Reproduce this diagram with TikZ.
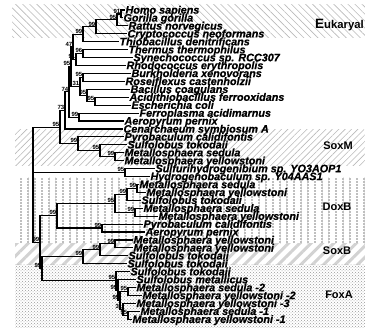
\documentclass[tikz,border=0pt]{standalone}
\usepackage{fontspec}
\setmainfont{Liberation Sans}
\newfontfamily\leaffont{Liberation Sans}[UprightFont=* Bold Italic,FakeBold=0.8]
\usetikzlibrary{patterns,patterns.meta}

\begin{document}
\begin{tikzpicture}[x=1pt,y=-1pt,line width=1.1pt]
\tikzstyle{leaf}=[anchor=west,inner sep=0pt,text height=1.38ex,text depth=0pt,font=\leaffont\fontsize{10.8}{11}\selectfont]
\tikzstyle{bs}=[inner sep=0.2pt,font=\fontsize{6}{6}\selectfont\bfseries]
\tikzstyle{grp}=[inner sep=0pt,font=\fontsize{11}{12}\selectfont\bfseries]
\useasboundingbox (0,0) rectangle (365,328);
\path[pattern={Lines[angle=-45,distance=5pt,line width=0.6pt]},pattern color=gray!55] (12,5) rectangle (365,38);
\path[pattern={Lines[angle=45,distance=4.5pt,line width=0.6pt]},pattern color=gray!55] (15,130) rectangle (365,166);
\path[pattern={Lines[angle=90,distance=7pt,line width=1.8pt]},pattern color=gray!50] (15,178) rectangle (365,244);
\path[pattern={Lines[angle=0,distance=3pt,line width=1pt]},pattern color=white] (15,178) rectangle (365,244);
\path[pattern={Lines[angle=45,distance=8pt,line width=3pt]},pattern color=gray!35] (15,244) rectangle (365,265);
\path[pattern=crosshatch dots,pattern color=gray!80] (15,265) rectangle (365,328);

\node[leaf] (hsap) at (125,10.0) {Homo sapiens};
\node[leaf] (ggor) at (123,17.9) {Gorilla gorilla};
\node[leaf] (rnor) at (128,25.9) {Rattus norvegicus};
\node[leaf] (cneo) at (127,33.8) {Cryptococcus neoformans};
\node[leaf] (tden) at (119,41.7) {Thiobacillus denitrificans};
\node[leaf] (tthe) at (128,49.7) {Thermus thermophilus};
\node[leaf] (syn) at (133,57.6) {Synechococcus sp. RCC307};
\node[leaf] (rery) at (126,65.5) {Rhodococcus erythropolis};
\node[leaf] (bxen) at (131,73.4) {Burkholderia xenovorans};
\node[leaf] (rcas) at (125,81.4) {Roseiflexus castenholzii};
\node[leaf] (bcoa) at (130,89.3) {Bacillus coagulans};
\node[leaf] (afer) at (129,97.2) {Acidithiobacillus ferrooxidans};
\node[leaf] (ecol) at (131,105.2) {Escherichia coli};
\node[leaf] (faci) at (139,113.1) {Ferroplasma acidimarnus};
\node[leaf] (aper) at (124,121.0) {Aeropyrum pernix};
\node[leaf] (csym) at (123,129.0) {Cenarchaeum symbiosum A};
\node[leaf] (pcal) at (124,136.9) {Pyrobaculum calidifontis};
\node[leaf] (stok) at (127,144.8) {Sulfolobus tokodaii};
\node[leaf] (msed) at (124,152.7) {Metallosphaera sedula};
\node[leaf] (myel) at (124,160.7) {Metallosphaera yellowstoni};
\node[leaf] (sulf) at (155,168.6) {Sulfurihydrogenibium sp. YO3AOP1};
\node[leaf] (hyd) at (150,176.5) {Hydrogenobaculum sp. Y04AAS1};
\node[leaf] (msedb) at (139,184.5) {Metallosphaera sedula};
\node[leaf] (myelb) at (146,192.4) {Metallosphaera yellowstoni};
\node[leaf] (stokb) at (141,200.3) {Sulfolobus tokodaii};
\node[leaf] (msedc) at (143,208.3) {Metallosphaera sedula};
\node[leaf] (myelc) at (158,216.2) {Metallosphaera yellowstoni};
\node[leaf] (pcalb) at (143,224.1) {Pyrobaculum calidifontis};
\node[leaf] (aperb) at (145,232.0) {Aeropyrum pernix};
\node[leaf] (myeld) at (133,240.0) {Metallosphaera yellowstoni};
\node[leaf] (myele) at (133,247.9) {Metallosphaera yellowstoni};
\node[leaf] (stokc) at (128,255.8) {Sulfolobus tokodaii};
\node[leaf] (stokd) at (127,263.8) {Sulfolobus tokodaii};
\node[leaf] (stoke) at (130,271.7) {Sulfolobus tokodaii};
\node[leaf] (smet) at (136,279.6) {Sulfolobus metallicus};
\node[leaf] (msed2) at (136,287.6) {Metallosphaera sedula -2};
\node[leaf] (myel2) at (142,295.5) {Metallosphaera yellowstoni -2};
\node[leaf] (myel3) at (136,303.4) {Metallosphaera yellowstoni -3};
\node[leaf] (msed1) at (140,311.3) {Metallosphaera sedula -1};
\node[leaf] (myel1) at (132,319.3) {Metallosphaera yellowstoni -1};

\coordinate[label={[bs]above left:91}] (hg) at (121,14.0);
\coordinate[label={[bs]above left:95}] (hgr) at (117,19.9);
\coordinate[label={[bs]above left:99}] (euk) at (96,26.9);
\coordinate[label={[bs]above left:99}] (et) at (83,34.3);
\coordinate[label={[bs]above left:96}] (ts) at (83,53.6);
\coordinate[label={[bs]above left:91}] (tsr) at (76,59.6);
\coordinate[label={[bs]above left:47}] (n47) at (73,47.0);
\coordinate[label={[bs]above left:95}] (br) at (83,77.4);
\coordinate[label={[bs]above left:95}] (ae) at (95,101.2);
\coordinate[label={[bs]above left:95}] (bae) at (87,95.3);
\coordinate[label={[bs]above left:31}] (brb) at (80,86.3);
\coordinate[label={[bs]above left:95}] (bact) at (71,66.6);
\coordinate[label={[bs]above left:99}] (fa) at (79,117.1);
\coordinate[label={[bs]above left:74}] (n74) at (69,91.8);
\coordinate[label={[bs]above left:73}] (n73) at (65,110.4);
\coordinate[label={[bs]above left:99}] (m3) at (115,156.7);
\coordinate[label={[bs]above left:95}] (m2) at (100,150.8);
\coordinate[label={[bs]above left:99}] (soxm) at (78,143.8);
\coordinate[label={[bs]above left:95}] (up) at (60,127.1);
\coordinate[label={[bs]above left:95}] (sh) at (125,172.6);
\coordinate[label={[bs]above left:99}] (d1) at (137,188.4);
\coordinate[label={[bs]above left:99}] (d2) at (127,194.4);
\coordinate[label={[bs]above left:99}] (d3) at (135,212.2);
\coordinate[label={[bs]above left:95}] (d4) at (115,203.3);
\coordinate[label={[bs]above left:99}] (pa) at (102,228.0);
\coordinate[label={[bs]above left:99}] (doxb) at (57,215.7);
\coordinate[label={[bs]above left:99}] (s0) at (115,243.9);
\coordinate[label={[bs]above left:99}] (s1) at (100,249.9);
\coordinate[label={[bs]above left:99}] (soxb) at (83,256.8);
\coordinate[label={[bs]above left:95}] (f1) at (128,291.5);
\coordinate[label={[bs]above left:95}] (f3) at (128,315.3);
\coordinate[label={[bs]above left:31}] (f4) at (123,309.4);
\coordinate[label={[bs]above left:95}] (f5) at (120,300.4);
\coordinate[label={[bs]above left:99}] (fb) at (118,290.0);
\coordinate[label={[bs]above left:95}] (foxa) at (116,280.8);
\coordinate[label={[bs]above left:99}] (sf) at (42,268.8);
\coordinate[label={[bs]above left:99}] (low) at (40,242.3);
\coordinate (root) at (33,184.7);

\draw (hg) |- (hsap.west) (hg) |- (ggor.west);
\draw (hgr) |- (hg) (hgr) |- (rnor.west);
\draw (euk) |- (hgr) (euk) |- (cneo.west);
\draw (et) |- (euk) (et) |- (tden.west);
\draw (ts) |- (tthe.west) (ts) |- (syn.west);
\draw (tsr) |- (ts) (tsr) |- (rery.west);
\draw (n47) |- (et) (n47) |- (tsr);
\draw (br) |- (bxen.west) (br) |- (rcas.west);
\draw (ae) |- (afer.west) (ae) |- (ecol.west);
\draw (bae) |- (bcoa.west) (bae) |- (ae);
\draw (brb) |- (br) (brb) |- (bae);
\draw (bact) |- (n47) (bact) |- (brb);
\draw (fa) |- (faci.west) (fa) |- (aper.west);
\draw (n74) |- (bact) (n74) |- (fa);
\draw (n73) |- (n74) (n73) |- (csym.west);
\draw (m3) |- (msed.west) (m3) |- (myel.west);
\draw (m2) |- (stok.west) (m2) |- (m3);
\draw (soxm) |- (pcal.west) (soxm) |- (m2);
\draw (up) |- (n73) (up) |- (soxm);
\draw (sh) |- (sulf.west) (sh) |- (hyd.west);
\draw (d1) |- (msedb.west) (d1) |- (myelb.west);
\draw (d2) |- (d1) (d2) |- (stokb.west);
\draw (d3) |- (msedc.west) (d3) |- (myelc.west);
\draw (d4) |- (d2) (d4) |- (d3);
\draw (pa) |- (pcalb.west) (pa) |- (aperb.west);
\draw (doxb) |- (d4) (doxb) |- (pa);
\draw (s0) |- (myeld.west) (s0) |- (myele.west);
\draw (s1) |- (s0) (s1) |- (stokc.west);
\draw (soxb) |- (s1) (soxb) |- (stokd.west);
\draw (f1) |- (msed2.west) (f1) |- (myel2.west);
\draw (f3) |- (msed1.west) (f3) |- (myel1.west);
\draw (f4) |- (myel3.west) (f4) |- (f3);
\draw (f5) |- (f1) (f5) |- (f4);
\draw (fb) |- (smet.west) (fb) |- (f5);
\draw (foxa) |- (stoke.west) (foxa) |- (fb);
\draw (sf) |- (soxb) (sf) |- (foxa);
\draw (low) |- (doxb) (low) |- (sf);
\draw (root) |- (up) (root) |- (sh) (root) |- (low);

\node[grp] (eukl) at (339.5,25) {\fontsize{13.5}{14}\selectfont E\fontsize{11.3}{12}\selectfont ukaryal};
\node[grp] (soxml) at (338,146) {SoxM};
\node[grp] (doxbl) at (337,207) {DoxB};
\node[grp] (soxbl) at (337,251) {SoxB};
\node[grp] (foxal) at (339,295) {FoxA};
\end{tikzpicture}
\end{document}
